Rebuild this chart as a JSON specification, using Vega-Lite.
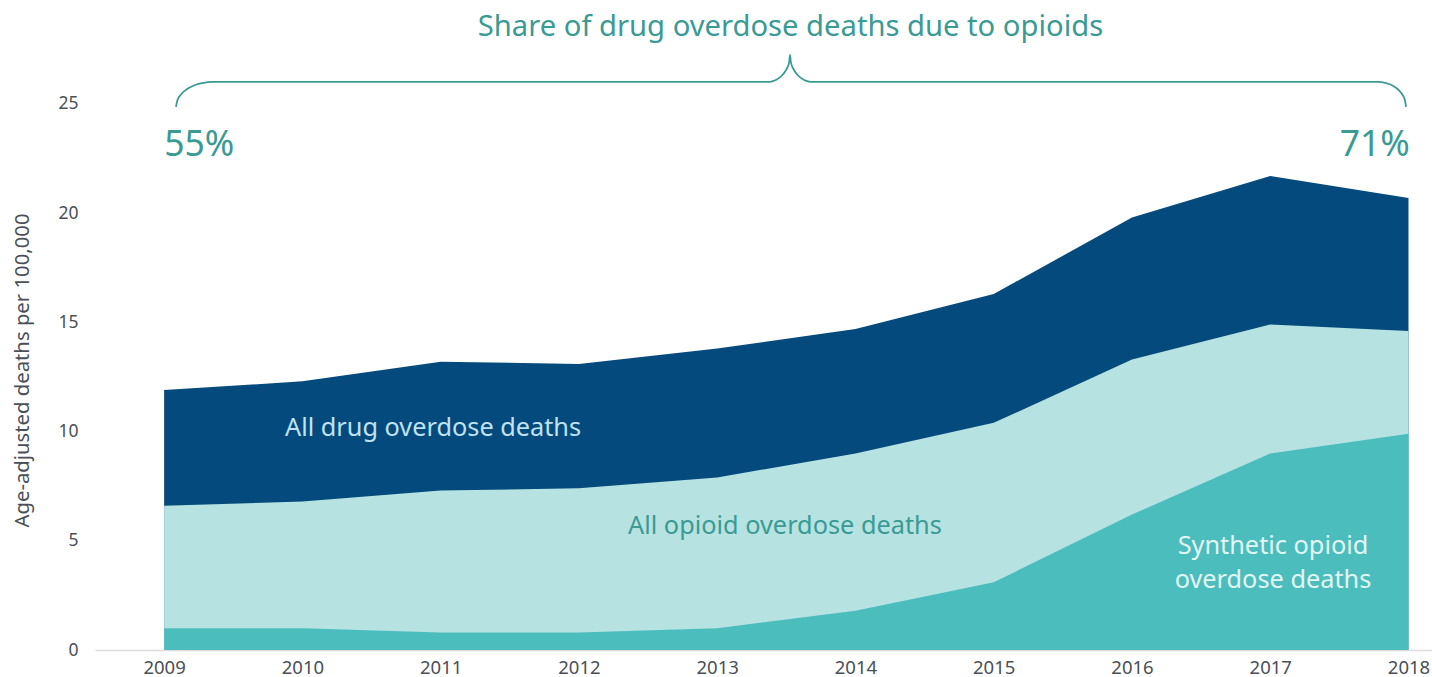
{
  "$schema": "https://vega.github.io/schema/vega-lite/v6.json",
  "autosize": "none",
  "width": 1337,
  "height": 650,
  "padding": {"left": 95, "top": 0, "right": 0, "bottom": 27},
  "background": "white",
  "config": {"view": {"stroke": null}, "font": "Noto Sans"},
  "datasets": {
    "series": [
      {"year": 2009, "all": 11.9, "opioid": 6.6, "synthetic": 1.0},
      {"year": 2010, "all": 12.3, "opioid": 6.8, "synthetic": 1.0},
      {"year": 2011, "all": 13.2, "opioid": 7.3, "synthetic": 0.8},
      {"year": 2012, "all": 13.1, "opioid": 7.4, "synthetic": 0.8},
      {"year": 2013, "all": 13.8, "opioid": 7.9, "synthetic": 1.0},
      {"year": 2014, "all": 14.7, "opioid": 9.0, "synthetic": 1.8},
      {"year": 2015, "all": 16.3, "opioid": 10.4, "synthetic": 3.1},
      {"year": 2016, "all": 19.8, "opioid": 13.3, "synthetic": 6.2},
      {"year": 2017, "all": 21.7, "opioid": 14.9, "synthetic": 9.0},
      {"year": 2018, "all": 20.7, "opioid": 14.6, "synthetic": 9.9}
    ],
    "brace": [
      {"i": 1, "x": 2009.0859, "y": 24.863},
      {"i": 2, "x": 2009.0953, "y": 25.160},
      {"i": 3, "x": 2009.1220, "y": 25.435},
      {"i": 4, "x": 2009.1640, "y": 25.673},
      {"i": 5, "x": 2009.2197, "y": 25.856},
      {"i": 6, "x": 2009.2840, "y": 25.966},
      {"i": 7, "x": 2009.3535, "y": 26.007},
      {"i": 8, "x": 2013.3604, "y": 26.007},
      {"i": 9, "x": 2013.4038, "y": 26.049},
      {"i": 10, "x": 2013.4436, "y": 26.172},
      {"i": 11, "x": 2013.4783, "y": 26.369},
      {"i": 12, "x": 2013.5043, "y": 26.625},
      {"i": 13, "x": 2013.5210, "y": 26.923},
      {"i": 14, "x": 2013.5268, "y": 27.244},
      {"i": 15, "x": 2013.5325, "y": 26.923},
      {"i": 16, "x": 2013.5492, "y": 26.625},
      {"i": 17, "x": 2013.5752, "y": 26.369},
      {"i": 18, "x": 2013.6099, "y": 26.172},
      {"i": 19, "x": 2013.6497, "y": 26.049},
      {"i": 20, "x": 2013.6931, "y": 26.007},
      {"i": 21, "x": 2017.7796, "y": 26.007},
      {"i": 22, "x": 2017.8317, "y": 25.966},
      {"i": 23, "x": 2017.8809, "y": 25.856},
      {"i": 24, "x": 2017.9229, "y": 25.673},
      {"i": 25, "x": 2017.9547, "y": 25.435},
      {"i": 26, "x": 2017.9749, "y": 25.160},
      {"i": 27, "x": 2017.9821, "y": 24.863}
    ],
    "labels": [
      {"x": 2010.945, "y": 10.16, "text": "All drug overdose deaths", "kind": "drug", "size": 25.3},
      {"x": 2013.49, "y": 5.68, "text": "All opioid overdose deaths", "kind": "opioid", "size": 25.3},
      {"x": 2017.02, "y": 4.76, "text": "Synthetic opioid", "kind": "synthetic", "size": 25.3},
      {"x": 2017.02, "y": 3.20, "text": "overdose deaths", "kind": "synthetic", "size": 25.3},
      {"x": 2013.53, "y": 28.53, "text": "Share of drug overdose deaths due to opioids", "kind": "title", "size": 29.2}
    ],
    "pctLeft": [
      {"x": 2009.0, "y": 23.1, "text": "55%"}
    ],
    "pctRight": [
      {"x": 2018.01, "y": 23.1, "text": "71%"}
    ]
  },
  "layer": [
    {
      "data": {"name": "series"},
      "mark": {"type": "area", "color": "#054a7c"},
      "encoding": {
        "x": {
          "field": "year", "type": "quantitative",
          "scale": {"domain": [2008.5, 2018.17], "nice": false, "zero": false},
          "axis": {
            "title": null,
            "values": [2009, 2009.5, 2010, 2010.5, 2011, 2011.5, 2012, 2012.5, 2013, 2013.5, 2014, 2014.5, 2015, 2015.5, 2016, 2016.5, 2017, 2017.5, 2018],
            "format": "d",
            "labelExpr": "datum.value % 1 === 0 ? datum.label : ''",
            "tickColor": {"condition": {"test": "datum.value % 1 !== 0", "value": "#dcdcdc"}, "value": "transparent"},
            "tickSize": 5,
            "domainColor": "#dcdcdc",
            "domainWidth": 1.5,
            "labelFontSize": 18.5,
            "labelColor": "#4a4f57",
            "labelPadding": 3,
            "grid": false
          }
        },
        "y": {
          "field": "all", "type": "quantitative",
          "scale": {"domain": [0, 29.76], "nice": false},
          "axis": {
            "title": "Age-adjusted deaths per 100,000",
            "values": [0, 5, 10, 15, 20, 25],
            "domain": false,
            "ticks": false,
            "grid": false,
            "labelPadding": 17,
            "labelFontSize": 17.5,
            "labelColor": "#4a4f57",
            "titleFontSize": 20.3,
            "titleFontWeight": "normal",
            "titleColor": "#4a4f57",
            "titleX": -73,
            "titleY": 370,
            "titleAngle": -90,
            "titleAlign": "center",
            "titleBaseline": "middle"
          }
        }
      }
    },
    {
      "data": {"name": "series"},
      "mark": {"type": "area", "color": "#b6e3e1"},
      "encoding": {
        "x": {"field": "year", "type": "quantitative"},
        "y": {"field": "opioid", "type": "quantitative"}
      }
    },
    {
      "data": {"name": "series"},
      "mark": {"type": "area", "color": "#4bbdbd"},
      "encoding": {
        "x": {"field": "year", "type": "quantitative"},
        "y": {"field": "synthetic", "type": "quantitative"}
      }
    },
    {
      "data": {"name": "brace"},
      "mark": {"type": "line", "color": "#3a9a94", "strokeWidth": 1.8, "interpolate": "monotone"},
      "encoding": {
        "x": {"field": "x", "type": "quantitative"},
        "y": {"field": "y", "type": "quantitative"},
        "order": {"field": "i", "type": "quantitative"}
      }
    },
    {
      "data": {"name": "labels"},
      "mark": {"type": "text", "baseline": "middle", "align": "center"},
      "encoding": {
        "x": {"field": "x", "type": "quantitative"},
        "y": {"field": "y", "type": "quantitative"},
        "text": {"field": "text"},
        "size": {"field": "size", "type": "quantitative", "scale": null},
        "color": {
          "field": "kind", "type": "nominal", "legend": null,
          "scale": {"domain": ["drug", "opioid", "synthetic", "title"], "range": ["#bfe2f5", "#3a9a94", "#e2f6f4", "#3a9a94"]}
        }
      }
    },
    {
      "data": {"name": "pctLeft"},
      "mark": {"type": "text", "baseline": "middle", "align": "left", "fontSize": 35.5, "color": "#3a9a94"},
      "encoding": {
        "x": {"field": "x", "type": "quantitative"},
        "y": {"field": "y", "type": "quantitative"},
        "text": {"field": "text"}
      }
    },
    {
      "data": {"name": "pctRight"},
      "mark": {"type": "text", "baseline": "middle", "align": "right", "fontSize": 35.5, "color": "#3a9a94"},
      "encoding": {
        "x": {"field": "x", "type": "quantitative"},
        "y": {"field": "y", "type": "quantitative"},
        "text": {"field": "text"}
      }
    }
  ]
}
